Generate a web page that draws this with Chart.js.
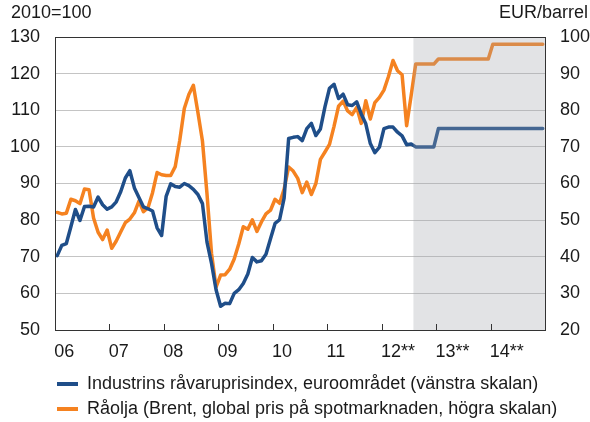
<!DOCTYPE html>
<html>
<head>
<meta charset="utf-8">
<script src="https://cdn.jsdelivr.net/npm/chart.js@4.4.1/dist/chart.umd.min.js"></script>
<style>
    html, body { margin: 0; padding: 0; background: #fff; }
    canvas { display: block; }
</style>
</head>
<body>
<canvas id="chart" width="590" height="422"></canvas>
<script>
// x-axis: one category per month, Jan 2006 - Dec 2014
const years = [2006, 2007, 2008, 2009, 2010, 2011, 2012, 2013, 2014];
const yearLabels = ['06', '07', '08', '09', '10', '11', '12**', '13**', '14**'];
const forecastStart = '2012-08';

// Industrins råvaruprisindex (2010=100), outcome Jan 2006 - Jul 2012
const industryOutcome = [
    70.3, 73.1, 73.6, 78.2, 82.9, 79.9, 83.7, 83.8, 83.6, 86.3, 84.2, 83.0,
    83.6, 85.0, 87.8, 91.5, 93.5, 88.8, 86.2, 83.6, 83.1, 82.5, 77.9, 75.8,
    86.5, 89.9, 89.2, 89.0, 90.0, 89.4, 88.4, 87.0, 84.5, 74.0, 68.2, 61.0,
    56.5, 57.3, 57.2, 60.0, 61.0, 62.7, 65.3, 69.8, 68.6, 68.9, 70.7, 74.9,
    79.1, 80.1, 86.0, 102.3, 102.6, 102.8, 101.7, 105.0, 106.4, 103.1, 104.9, 110.9,
    116.0, 117.1, 113.2, 114.4, 111.5, 111.3, 112.3, 109.0, 106.3, 100.9, 98.4, 99.9,
    105.0, 105.4, 105.4, 104.0, 103.0, 100.6, 100.8
];
// forecast Aug 2012 - Dec 2014
const industryForecast = [
    100, 100, 100, 100, 100,
    105, 105, 105, 105, 105, 105, 105, 105, 105, 105, 105, 105,
    105, 105, 105, 105, 105, 105, 105, 105, 105, 105, 105, 105
];

// Råolja Brent (EUR/barrel), outcome Jan 2006 - Jul 2012
const brentOutcome = [
    52.1, 51.7, 51.9, 55.7, 55.3, 54.5, 58.5, 58.3, 50.6, 46.7, 44.7, 47.3,
    42.3, 44.3, 46.8, 49.3, 50.3, 52.0, 55.2, 52.3, 53.4, 57.5, 63.0, 62.4,
    62.2, 62.2, 64.6, 71.8, 80.5, 84.3, 86.8, 79.4, 71.6, 57.2, 40.9, 31.7,
    35.0, 35.1, 36.6, 39.4, 43.5, 48.2, 47.5, 50.1, 46.9, 49.5, 51.7, 52.7,
    55.7, 54.6, 58.5, 64.5, 63.4, 61.4, 57.5, 60.4, 57.0, 60.0, 66.6, 68.6,
    70.7, 75.6, 81.1, 82.5, 79.8, 78.8, 80.8, 76.4, 82.6, 77.6, 82.1, 83.5,
    85.5, 89.2, 93.6, 90.8, 89.7, 75.8, 84.0
];
const brentForecast = [
    92.6, 92.6, 92.6, 92.6, 92.6,
    94, 94, 94, 94, 94, 94, 94, 94, 94, 94, 94, 94,
    98, 98, 98, 98, 98, 98, 98, 98, 98, 98, 98, 98
];

const months = [];
years.forEach((y) => {
    for (let m = 1; m <= 12; m++) {
        months.push(y + '-' + String(m).padStart(2, '0'));
    }
});

const FONT = "'Liberation Sans', Arial, sans-serif";
const TEXT = '#1a1a1a';

// grey forecast area, year tick marks, frame and the two unit labels
const decorations = {
    id: 'decorations',
    afterLayout(chart) {
        // legend rows start under the plot, not at the canvas edge
        if (chart.legend) chart.legend.left = 50;
    },
    afterDatasetsDraw(chart) {
        const { ctx, chartArea: a, scales } = chart;
        const x = scales.x;
        const i0 = months.indexOf(forecastStart);
        const xs = (x.getPixelForValue(i0 - 1) + x.getPixelForValue(i0)) / 2;

        ctx.save();
        ctx.fillStyle = 'rgba(158, 161, 168, 0.3)';
        ctx.fillRect(xs, a.top, a.right - xs, a.bottom - a.top);

        ctx.strokeStyle = '#333';
        ctx.lineWidth = 1;
        ctx.beginPath();
        months.forEach((m, i) => {
            if (i > 0 && m.endsWith('-01')) {
                const px = Math.round((x.getPixelForValue(i - 1) + x.getPixelForValue(i)) / 2) + 0.5;
                ctx.moveTo(px, a.bottom);
                ctx.lineTo(px, a.bottom - 6);
            }
        });
        ctx.stroke();
        ctx.strokeRect(Math.round(a.left) + 0.5, Math.round(a.top) + 0.5,
            Math.round(a.right - a.left), Math.round(a.bottom - a.top));

        ctx.fillStyle = TEXT;
        ctx.font = '18px ' + FONT;
        ctx.textBaseline = 'middle';
        ctx.textAlign = 'left';
        ctx.fillText('2010=100', 11, 13);
        ctx.textAlign = 'right';
        ctx.fillText('EUR/barrel', 588, 13);
        ctx.restore();
    },
};

const ctx = document.getElementById('chart');
new Chart(ctx, {
    type: 'line',
    data: {
        labels: months,
        datasets: [
            {
                label: 'Industrins råvaruprisindex, euroområdet (vänstra skalan)',
                data: industryOutcome.concat(industryForecast),
                borderColor: '#1f4e89',
                yAxisID: 'y',
            },
            {
                label: 'Råolja (Brent, global pris på spotmarknaden, högra skalan)',
                data: brentOutcome.concat(brentForecast),
                borderColor: '#f58220',
                yAxisID: 'y1',
            },
        ],
    },
    options: {
        responsive: false,
        animation: false,
        devicePixelRatio: 1,
        layout: { padding: { left: 0, right: 0, top: 37, bottom: 0 } },
        elements: {
            point: { radius: 0 },
            line: { borderWidth: 3.5, tension: 0, borderJoinStyle: 'round', borderCapStyle: 'round' },
        },
        scales: {
            x: {
                type: 'category',
                offset: true,
                grid: { display: false, drawTicks: false },
                border: { display: false },
                ticks: {
                    autoSkip: false,
                    maxRotation: 0,
                    align: 'start',
                    labelOffset: -3,
                    padding: 11,
                    color: TEXT,
                    font: { family: FONT, size: 18 },
                    callback: (val, i) =>
                        months[i].endsWith('-01') ? yearLabels[years.indexOf(+months[i].slice(0, 4))] : '',
                },
                afterFit: (scale) => { scale.height = 38; },
            },
            y: {
                position: 'left',
                min: 50,
                max: 130,
                grid: { color: '#c4c4c4', lineWidth: 1, drawTicks: false },
                border: { display: false },
                ticks: { stepSize: 10, padding: 15, color: TEXT, font: { family: FONT, size: 18 } },
                afterFit: (scale) => { scale.width = 55; },
            },
            y1: {
                position: 'right',
                min: 20,
                max: 100,
                grid: { display: false, drawTicks: false },
                border: { display: false },
                ticks: { stepSize: 10, padding: 15, color: TEXT, font: { family: FONT, size: 18 } },
                afterFit: (scale) => { scale.width = 45; },
            },
        },
        plugins: {
            tooltip: { enabled: false },
            legend: {
                position: 'bottom',
                align: 'start',
                maxHeight: 54,
                labels: {
                    color: TEXT,
                    font: { family: FONT, size: 18 },
                    boxWidth: 21,
                    boxHeight: 4,
                    padding: 7,
                    generateLabels: (chart) =>
                        chart.data.datasets.map((ds, i) => ({
                            text: ds.label,
                            fillStyle: ds.borderColor,
                            strokeStyle: ds.borderColor,
                            lineWidth: 0,
                            hidden: false,
                            datasetIndex: i,
                            fontColor: TEXT,
                        })),
                },
            },
        },
    },
    plugins: [decorations],
});
</script>
</body>
</html>
